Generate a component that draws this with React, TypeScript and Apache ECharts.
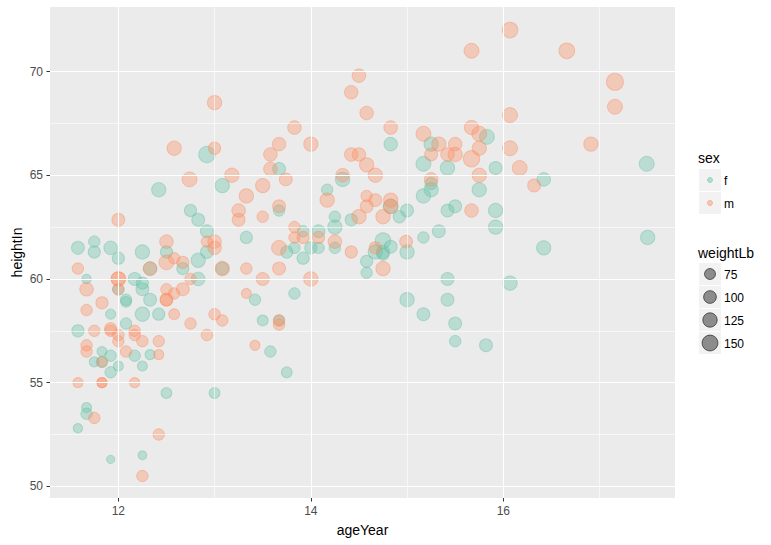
import React, { useEffect, useRef } from "react";
import * as echarts from "echarts";

// [ageYear, heightIn, weightLb]
const femalePoints = [
  [12.92,66.0,159],[13.08,64.5,123],[12.42,64.3,123],[13.67,65.3,101],[14.33,64.8,123],[14.17,64.3,82],
  [12.75,63.3,92],[12.83,62.85,101],[13.67,63.3,82],[14.25,63.0,82],[14.42,62.85,92],[14.25,62.5,123],
  [13.92,62.3,82],[14.08,62.3,101],[12.92,62.3,101],[13.33,62.0,92],[11.58,61.5,101],[11.75,61.8,82],
  [11.75,61.3,92],[11.92,61.5,112],[12.25,61.3,123],[12.0,61.0,92],[12.5,61.3,92],[12.83,60.9,123],
  [12.92,61.3,101],[13.75,61.3,92],[13.83,61.5,82],[14.0,61.5,92],[14.08,61.5,82],[14.25,61.5,82],
  [13.92,61.0,92],[11.67,60.0,57],[12.0,59.5,82],[12.17,60.0,101],[12.25,59.8,92],[12.25,59.5,101],
  [12.33,59.0,101],[12.08,59.0,82],[12.08,58.9,73],[11.92,58.3,65],[12.25,58.3,123],[12.42,58.3,92],
  [12.08,57.85,82],[11.58,57.5,92],[11.83,56.5,65],[11.92,56.3,82],[12.17,56.3,82],[12.33,56.35,65],
  [11.75,56.0,65],[11.83,56.0,82],[12.0,55.8,65],[12.25,55.8,65],[11.92,55.5,82],[12.5,54.5,73],
  [13.0,54.5,73],[11.67,53.8,65],[11.67,53.5,82],[11.58,52.8,57],[11.92,51.3,45],[12.25,51.5,50],
  [12.33,60.5,112],[12.67,60.5,92],[12.83,60.0,112],[13.08,60.5,101],[13.42,59.0,82],[13.5,58.0,73],
  [13.67,58.0,73],[13.58,56.5,82],[13.75,55.5,73],[13.83,59.3,82],[15.25,66.5,123],[15.83,66.85,134],
  [14.83,66.5,112],[15.17,65.55,134],[15.42,65.35,123],[15.92,65.35,101],[17.49,65.55,134],[16.42,64.8,112],
  [15.25,64.6,92],[15.25,64.3,123],[15.17,64.0,123],[15.75,64.3,123],[15.0,63.3,101],[14.83,63.5,134],
  [14.92,63.0,92],[15.42,63.3,101],[15.5,63.5,101],[15.92,63.3,123],[15.92,62.5,123],[15.33,62.3,101],
  [15.17,62.0,82],[17.5,62.0,123],[16.42,61.5,123],[14.75,61.85,146],[14.83,61.55,101],[14.67,61.3,123],
  [14.75,61.3,112],[14.75,61.2,92],[14.58,60.85,92],[14.58,60.3,82],[15.0,61.3,123],[15.42,60.0,101],
  [16.07,59.8,123],[15.0,59.0,123],[15.42,59.0,101],[15.17,58.3,101],[15.5,57.85,101],[15.5,57.0,82],
  [15.82,56.8,101],
];

const malePoints = [
  [13.0,68.5,123],[12.58,66.3,123],[13.0,66.3,92],[12.74,64.8,134],[13.18,65.0,123],[13.33,64.0,123],
  [13.5,64.5,123],[13.58,66.0,112],[13.58,65.3,112],[13.67,66.5,112],[13.83,67.3,112],[14.0,66.5,123],
  [13.74,64.8,101],[13.25,63.3,112],[13.25,62.85,101],[13.5,63.0,82],[13.67,63.5,101],[12.0,62.85,101],
  [12.5,61.8,112],[14.42,69.0,112],[14.5,69.8,112],[14.42,66.0,112],[14.5,66.0,112],[14.33,65.0,112],
  [14.17,63.8,123],[14.5,63.0,123],[13.83,62.5,82],[13.83,62.0,82],[13.92,62.0,92],[14.08,62.0,92],
  [14.25,61.8,112],[13.67,61.5,134],[12.92,61.8,82],[13.0,61.8,112],[13.0,61.5,112],[14.42,61.3,92],
  [11.58,60.5,82],[11.67,59.5,112],[11.67,58.5,82],[11.83,58.85,92],[12.0,60.0,123],[12.0,60.0,123],
  [12.0,59.5,82],[11.75,57.5,82],[11.92,57.6,92],[11.92,57.5,82],[12.0,57.3,82],[12.0,57.0,82],
  [12.17,57.5,82],[12.17,57.3,82],[12.25,57.0,82],[12.42,57.0,82],[12.42,56.35,65],[11.67,56.8,82],
  [11.67,56.5,82],[12.08,56.5,82],[11.83,56.0,65],[11.58,55.0,65],[11.83,55.0,65],[11.83,55.0,65],
  [12.17,55.0,65],[11.75,53.3,82],[12.42,52.5,82],[12.25,50.5,82],[12.33,60.5,112],[12.5,60.8,134],
  [12.58,61.0,82],[12.67,60.8,92],[12.75,60.0,82],[12.67,59.5,101],[12.58,59.3,82],[12.5,59.5,82],
  [12.5,59.0,101],[12.5,59.0,92],[12.58,58.3,73],[12.75,57.85,82],[12.92,57.3,82],[13.0,58.3,82],
  [13.08,58.0,82],[13.08,60.5,123],[13.33,60.5,82],[13.5,60.0,101],[13.67,60.5,101],[14.0,60.0,123],
  [13.33,59.3,65],[13.42,56.8,65],[13.67,58.0,82],[13.67,57.8,82],[16.07,72.0,146],[15.67,71.0,134],
  [16.66,71.0,146],[17.16,69.5,171],[17.16,68.3,134],[14.58,68.0,112],[14.83,67.3,112],[15.17,67.0,134],
  [15.67,67.3,123],[15.75,67.0,134],[16.07,67.9,134],[15.33,66.5,123],[15.5,66.5,112],[15.75,66.3,123],
  [16.07,66.3,134],[16.91,66.5,123],[15.25,66.0,101],[15.42,66.0,112],[15.5,66.0,123],[15.67,65.8,159],
  [16.17,65.35,134],[14.58,65.5,123],[14.67,65.0,123],[15.25,64.8,112],[15.75,65.0,123],[16.32,64.5,101],
  [14.58,64.0,82],[14.67,63.8,101],[14.58,63.5,101],[14.83,63.8,123],[14.83,63.5,123],[14.75,63.0,123],
  [15.67,63.3,112],[14.99,61.8,101],[14.67,61.5,92],[14.75,60.5,123],
];

const xTickValues = [12, 14, 16];
const xMinorGrid = [13, 15, 17];
const yTickValues = [50, 55, 60, 65, 70];
const yMinorGrid = [52.5, 57.5, 62.5, 67.5];
const sexLabels = ["f", "m"];
const weightLabels = [75, 100, 125, 150];

const sizeOf = (w: number) => 18 * Math.sqrt(w / 171.5);
const FONT = "'Liberation Sans', Arial, sans-serif";

const gridLine = (name: "xAxis" | "yAxis", v: number, width: number) => ({
  [name]: v,
  lineStyle: { color: "#ffffff", width, type: "solid" },
});

const legendKey = (y: number) => ({
  type: "rect",
  shape: { x: 699, y, width: 22, height: 22 },
  style: { fill: "#F2F2F2" },
});
const legendText = (x: number, y: number, text: string, size: number) => ({
  type: "text",
  x,
  y,
  style: { text, fill: "#000000", font: `${size}px ${FONT}`, textVerticalAlign: "middle" },
});

export default function App() {
  const ref = useRef<HTMLDivElement>(null);
  useEffect(() => {
    const chart = echarts.init(ref.current!, null, { renderer: "svg" });
    const sexColors = ["102,194,165", "252,141,98"];
    const graphics: any[] = [
      legendText(698, 158, "sex", 14),
      legendText(698, 253, "weightLb", 14),
    ];
    sexLabels.forEach((s, i) => {
      const y = 169 + i * 23;
      graphics.push(legendKey(y));
      graphics.push({
        type: "circle",
        shape: { cx: 710, cy: y + 11, r: 2.5 },
        style: { fill: `rgba(${sexColors[i]},0.45)`, stroke: `rgba(${sexColors[i]},0.55)`, lineWidth: 1 },
      });
      graphics.push(legendText(724, y + 12, s, 12));
    });
    weightLabels.forEach((w, i) => {
      const y = 263 + i * 23;
      graphics.push(legendKey(y));
      graphics.push({
        type: "circle",
        shape: { cx: 710, cy: y + 11, r: sizeOf(w) / 2 - 0.5 },
        style: { fill: "rgba(0,0,0,0.42)", stroke: "rgba(0,0,0,0.55)", lineWidth: 1 },
      });
      graphics.push(legendText(724, y + 12, String(w), 12));
    });

    const scatter = (name: string, data: number[][], rgb: string) => ({
      name,
      type: "scatter",
      data,
      z: 3,
      symbol: "circle",
      symbolSize: (v: number[]) => sizeOf(v[2]) - 1,
      itemStyle: {
        color: `rgba(${rgb},0.45)`,
        borderColor: `rgba(${rgb},0.55)`,
        borderWidth: 1,
      },
      silent: true,
    });

    chart.setOption({
      animation: false,
      backgroundColor: "#ffffff",
      textStyle: { fontFamily: FONT },
      grid: {
        left: 50, right: 96, top: 7, bottom: 47,
        outerBoundsMode: "none",
        show: true, backgroundColor: "#EBEBEB", borderWidth: 0,
      },
      xAxis: {
        type: "value",
        min: 11.29,
        max: 17.784,
        name: "ageYear",
        nameLocation: "middle",
        nameGap: 25,
        nameMoveOverlap: false,
        nameTextStyle: { color: "#000000", fontSize: 14, fontFamily: FONT },
        axisLine: { show: false },
        axisTick: { show: true, length: 3.5, customValues: xTickValues, lineStyle: { color: "#333333", width: 1 } },
        axisLabel: { customValues: xTickValues, color: "#4D4D4D", fontSize: 12, margin: 7, fontFamily: FONT },
        splitLine: { show: false },
      },
      yAxis: {
        type: "value",
        min: 49.44,
        max: 73.11,
        name: "heightIn",
        nameLocation: "middle",
        nameGap: 26,
        nameMoveOverlap: false,
        nameRotate: 90,
        nameTextStyle: { color: "#000000", fontSize: 14, fontFamily: FONT },
        axisLine: { show: false },
        axisTick: { show: true, length: 3.5, customValues: yTickValues, lineStyle: { color: "#333333", width: 1 } },
        axisLabel: { customValues: yTickValues, color: "#4D4D4D", fontSize: 12, margin: 7, fontFamily: FONT },
        splitLine: { show: false },
      },
      graphic: graphics,
      series: [
        {
          name: "grid",
          type: "scatter",
          data: [],
          z: 1,
          silent: true,
          markLine: {
            silent: true,
            symbol: "none",
            animation: false,
            label: { show: false },
            data: [
              ...xMinorGrid.map((v) => gridLine("xAxis", v, 0.6)),
              ...yMinorGrid.map((v) => gridLine("yAxis", v, 0.6)),
              ...xTickValues.map((v) => gridLine("xAxis", v, 1.1)),
              ...yTickValues.map((v) => gridLine("yAxis", v, 1.1)),
            ],
          },
        },
        scatter("f", femalePoints, sexColors[0]),
        scatter("m", malePoints, sexColors[1]),
      ],
    });
    return () => chart.dispose();
  }, []);
  return <div ref={ref} style={{ position: "fixed", left: 0, top: 0, width: 771, height: 545 }} />;
}
